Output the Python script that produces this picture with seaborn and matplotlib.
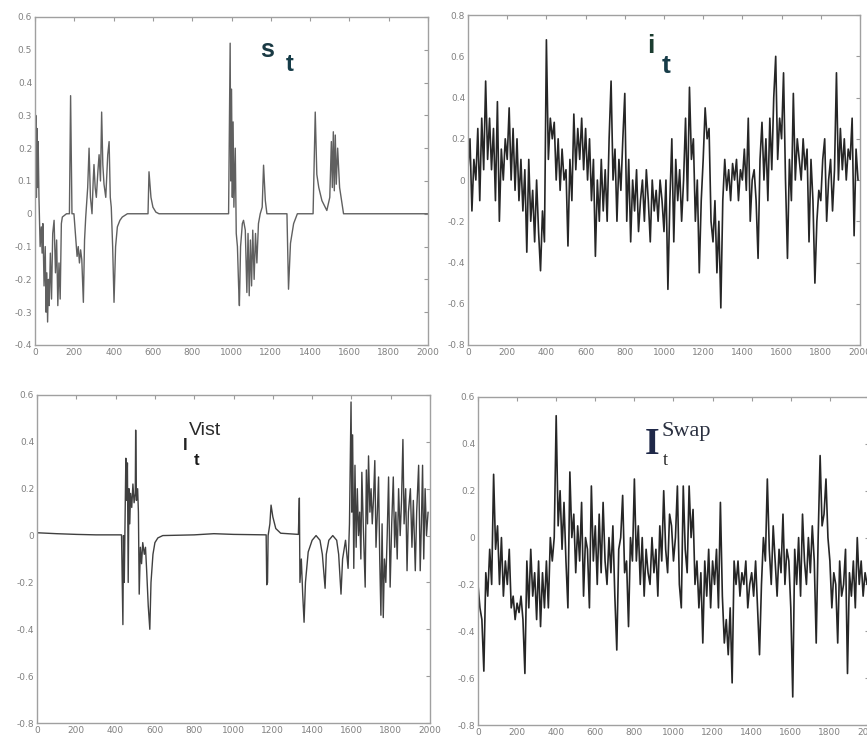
import numpy as np
import pandas as pd
import matplotlib
matplotlib.use("Agg")
import matplotlib.pyplot as plt
import seaborn as sns
from matplotlib.ticker import FuncFormatter, MultipleLocator

# s_t : sparse spikes, key points
s_x = [0, 4, 7, 10, 13, 16, 20, 26, 32, 36, 40, 46, 52, 56, 60, 64, 68, 72, 78, 84,
       90, 97, 104, 110, 116, 122, 128, 134, 139, 160, 175, 181, 188, 198, 208, 214, 220, 226, 232, 238,
       246, 252, 258, 268, 275, 282, 290, 296, 300, 306, 312, 320, 326, 333, 339, 345, 351, 360, 370, 377,
       383, 388, 395, 402, 410, 419, 432, 444, 470, 575, 580, 590, 600, 615, 631, 985, 993, 996, 1000, 1004,
       1008, 1012, 1019, 1024, 1030, 1036, 1040, 1046, 1055, 1061, 1070, 1078, 1084, 1090, 1096, 1102, 1108, 1115, 1122, 1129,
       1137, 1146, 1156, 1163, 1172, 1180, 1282, 1290, 1300, 1316, 1335, 1415, 1426, 1434, 1444, 1460, 1485, 1500, 1508, 1513,
       1518, 1523, 1528, 1533, 1540, 1550, 1570, 2000]
s_y = [0.10, 0.30, 0.05, 0.26, 0.08, 0.22, 0.05, -0.10, -0.04, -0.12, -0.03, -0.22, -0.10, -0.30, -0.18, -0.33, -0.20, -0.28, -0.12, -0.26,
       -0.06, -0.02, -0.18, -0.08, -0.28, -0.15, -0.26, -0.03, -0.01, 0.0, 0.0, 0.36, 0.0, 0.0, -0.08, -0.13, -0.10, -0.15, -0.11, -0.14,
       -0.27, -0.08, -0.01, 0.08, 0.20, 0.05, 0.0, 0.10, 0.15, 0.08, 0.05, 0.13, 0.18, 0.10, 0.31, 0.15, 0.09, 0.05, 0.18, 0.22,
       0.05, 0.02, -0.10, -0.27, -0.10, -0.04, -0.02, -0.01, 0.0, 0.0, 0.128, 0.05, 0.02, 0.005, 0.0, 0.0, 0.52, 0.10, 0.38, 0.05,
       0.28, 0.02, 0.20, -0.06, -0.10, -0.22, -0.28, -0.10, -0.03, -0.02, -0.05, -0.24, -0.06, -0.25, -0.08, -0.22, -0.05, -0.20, -0.06, -0.15,
       -0.03, 0.0, 0.02, 0.148, 0.04, 0.0, 0.0, -0.23, -0.09, -0.03, 0.0, 0.0, 0.31, 0.12, 0.08, 0.04, 0.01, 0.05, 0.22, 0.08,
       0.25, 0.07, 0.24, 0.09, 0.20, 0.08, 0.0, 0.0]

# i_t : noisy series, one value every 10 samples
i_x = list(range(0, 2000, 10))
i_y = [0.05, 0.2, -0.15, 0.1, 0.0, 0.25, -0.1, 0.3, 0.05, 0.48,
       0.1, 0.3, 0.05, 0.25, -0.1, 0.38, -0.2, 0.15, 0.0, 0.2,
       0.1, 0.35, 0.0, 0.25, -0.05, 0.2, -0.1, 0.1, -0.15, 0.05,
       -0.35, 0.1, -0.2, -0.05, -0.3, 0.0, -0.25, -0.44, -0.15, -0.3,
       0.68, 0.1, 0.3, 0.2, 0.28, 0.0, 0.2, -0.05, 0.15, 0.0,
       0.05, -0.32, 0.1, -0.1, 0.32, 0.05, 0.25, 0.1, 0.3, 0.05,
       0.25, 0.0, 0.2, -0.1, 0.1, -0.37, 0.0, -0.2, 0.1, -0.15,
       0.05, -0.2, 0.2, 0.48, 0.0, 0.15, -0.2, 0.1, -0.05, 0.2,
       0.42, -0.2, 0.1, -0.3, 0.0, -0.15, 0.05, -0.25, -0.1, 0.0,
       -0.2, 0.05, -0.1, -0.3, 0.0, -0.15, -0.05, -0.2, 0.0, -0.1,
       -0.25, 0.0, -0.53, -0.1, 0.2, -0.3, 0.1, -0.1, 0.05, -0.2,
       0.0, 0.3, -0.1, 0.45, 0.1, 0.2, -0.2, 0.0, -0.45, -0.1,
       0.1, 0.35, 0.2, 0.25, -0.2, -0.3, -0.1, -0.45, -0.2, -0.62,
       -0.1, 0.1, -0.05, 0.05, -0.1, 0.08, 0.0, 0.1, -0.1, 0.05,
       0.0, 0.15, -0.05, 0.3, -0.2, 0.0, 0.05, -0.1, -0.38, 0.1,
       0.28, 0.0, 0.2, -0.1, 0.3, 0.05, 0.4, 0.6, 0.1, 0.3,
       0.2, 0.52, 0.0, -0.38, 0.1, -0.1, 0.42, 0.0, 0.2, 0.1,
       0.0, 0.2, 0.05, 0.15, -0.3, 0.1, -0.1, -0.5, -0.2, -0.05,
       -0.1, 0.1, 0.2, -0.2, 0.0, 0.1, -0.15, 0.05, 0.52, 0.0,
       0.25, 0.05, 0.2, 0.0, 0.15, 0.1, 0.3, -0.27, 0.15, 0.0]

# I_t^Vist : quiet, a few bursts, noisy tail
v_x = [0, 100, 200, 300, 430, 437, 440, 444, 448, 452, 456, 460, 464, 468, 472, 476, 482, 488, 494, 500,
       502, 506, 512, 516, 520, 526, 532, 538, 546, 552, 558, 566, 574, 580, 590, 600, 615, 640, 800, 900,
       1000, 1166, 1169, 1173, 1176, 1185, 1191, 1200, 1215, 1240, 1330, 1335, 1338, 1345, 1352, 1359, 1366, 1380, 1400, 1420,
       1440, 1452, 1466, 1472, 1485, 1505, 1525, 1535, 1547, 1555, 1570, 1583, 1590, 1598, 1602, 1606, 1612, 1618, 1624, 1630,
       1636, 1642, 1648, 1653, 1660, 1670, 1676, 1682, 1687, 1694, 1700, 1706, 1712, 1719, 1725, 1732, 1738, 1744, 1750, 1756,
       1762, 1768, 1775, 1782, 1789, 1797, 1805, 1813, 1820, 1826, 1833, 1840, 1848, 1855, 1862, 1868, 1876, 1883, 1890, 1900,
       1908, 1915, 1925, 1932, 1942, 1950, 1956, 1962, 1968, 1975, 1982, 1990]
v_y = [0.012, 0.008, 0.005, 0.003, 0.003, -0.38, 0.0, -0.2, 0.05, 0.33, 0.15, 0.31, -0.2, 0.2, 0.05, 0.18, 0.12, 0.22, 0.14, 0.18,
       0.45, 0.15, 0.2, 0.1, -0.25, -0.05, -0.12, -0.03, -0.08, -0.05, -0.15, -0.3, -0.4, -0.2, -0.08, -0.03, -0.01, 0.0, 0.003, 0.008,
       0.005, 0.003, -0.21, -0.2, 0.0, 0.05, 0.13, 0.08, 0.03, 0.01, 0.005, 0.16, -0.2, -0.1, -0.25, -0.37, -0.2, -0.07, -0.02, 0.0,
       -0.02, -0.08, -0.225, -0.08, -0.02, 0.0, -0.02, -0.08, -0.25, -0.1, -0.02, -0.14, 0.05, 0.57, 0.1, 0.43, -0.14, 0.3, -0.05, 0.2,
       0.0, 0.1, -0.1, 0.27, 0.05, -0.22, 0.28, 0.05, 0.34, 0.1, 0.2, 0.05, 0.15, 0.32, -0.05, 0.1, 0.25, -0.1, -0.34, 0.05,
       -0.35, -0.1, -0.2, 0.0, 0.25, -0.22, 0.05, 0.25, -0.05, 0.1, -0.1, 0.2, 0.0, 0.15, 0.41, 0.05, 0.2, -0.15, 0.1, 0.2,
       -0.05, 0.15, -0.15, 0.1, 0.3, -0.15, 0.05, 0.3, -0.1, 0.2, 0.0, 0.1]

# I_t^Swap : noisy series, one value every 10 samples
w_x = list(range(0, 2000, 10))
w_y = [-0.2, -0.3, -0.35, -0.57, -0.15, -0.25, -0.05, -0.2, 0.27, -0.05,
       0.05, -0.2, 0.0, -0.25, -0.1, -0.2, -0.05, -0.3, -0.25, -0.35,
       -0.28, -0.32, -0.25, -0.35, -0.58, -0.1, -0.3, -0.05, -0.25, -0.15,
       -0.35, -0.1, -0.38, -0.15, -0.3, -0.1, -0.3, 0.0, -0.1, 0.0,
       0.52, 0.05, 0.2, -0.05, 0.15, -0.1, -0.3, 0.28, 0.0, 0.1,
       -0.15, 0.05, -0.1, 0.15, -0.25, 0.0, -0.05, -0.3, 0.22, -0.1,
       0.05, -0.2, 0.1, -0.15, 0.15, -0.1, -0.2, 0.0, -0.15, 0.05,
       -0.25, -0.48, -0.05, 0.0, 0.18, -0.15, -0.1, -0.38, 0.0, -0.1,
       0.25, -0.1, 0.05, -0.2, 0.0, -0.25, -0.05, -0.15, -0.2, 0.0,
       -0.15, -0.05, -0.25, 0.05, -0.1, 0.2, -0.05, -0.15, 0.1, 0.05,
       -0.1, 0.0, 0.22, -0.2, -0.3, 0.22, -0.05, -0.15, 0.22, 0.0,
       0.12, -0.2, -0.1, -0.3, -0.15, -0.45, -0.1, -0.25, -0.05, -0.3,
       -0.1, -0.2, -0.05, -0.3, 0.15, -0.25, -0.45, -0.35, -0.5, -0.3,
       -0.62, -0.1, -0.2, -0.1, -0.25, -0.15, -0.2, -0.1, -0.3, -0.2,
       -0.15, -0.25, -0.1, -0.3, -0.5, -0.2, 0.0, -0.1, 0.25, -0.05,
       -0.2, 0.05, -0.1, -0.25, -0.05, -0.15, 0.1, -0.2, -0.05, -0.1,
       -0.3, -0.68, -0.05, -0.2, 0.0, -0.25, 0.1, -0.1, -0.2, 0.0,
       -0.15, 0.05, -0.1, -0.45, 0.0, 0.35, 0.05, 0.1, 0.25, 0.0,
       -0.1, -0.3, -0.15, -0.2, -0.45, -0.1, -0.25, -0.2, -0.05, -0.58,
       -0.15, -0.25, -0.1, -0.3, 0.0, -0.2, -0.1, -0.25, -0.15, -0.2]

x_ticks = list(range(0, 2001, 200))

sns.set_style("white")
plt.rcParams['font.family'] = ['DejaVu Sans']

fig = plt.figure(figsize=(8.67, 7.43), dpi=100)
ax_s = fig.add_axes([0.0404, 0.5357, 0.4533, 0.4415])
ax_i = fig.add_axes([0.5398, 0.5357, 0.4521, 0.4440])
ax_v = fig.add_axes([0.0427, 0.0269, 0.4533, 0.4415])
ax_w = fig.add_axes([0.5513, 0.0242, 0.4510, 0.4415])


def fmt(v, pos):
    if abs(v) < 1e-9:
        return "0"
    return f"{round(v, 2):g}"


def style(ax, ymin, ymax, ystep):
    ax.set_xlim(0, 2000)
    ax.set_ylim(ymin, ymax)
    ax.set_xticks(x_ticks)
    ax.yaxis.set_major_locator(MultipleLocator(ystep))
    ax.yaxis.set_major_formatter(FuncFormatter(fmt))
    ax.xaxis.set_major_formatter(FuncFormatter(fmt))
    ax.tick_params(direction="in", length=3, width=0.8, colors="#9a9a9a",
                   labelsize=6.5, labelcolor="#808080", top=True, right=True, pad=2)
    for sp in ax.spines.values():
        sp.set_color("#a0a0a0")
        sp.set_linewidth(1.0)
    ax.set_xlabel("")
    ax.set_ylabel("")


sns.lineplot(x=s_x, y=s_y, ax=ax_s, color="#606060", linewidth=1.0, estimator=None, sort=False)
style(ax_s, -0.4, 0.6, 0.1)
ax_s.text(0.59, 0.90, "s", transform=ax_s.transAxes, fontsize=18, color="#1a3a44",
          ha="center", va="center", fontweight="bold", family="Liberation Sans")
ax_s.text(0.648, 0.855, "t", transform=ax_s.transAxes, fontsize=17, color="#163c48",
          ha="center", va="center", fontweight="bold", family="Liberation Sans")

sns.lineplot(x=i_x, y=i_y, ax=ax_i, color="#262626", linewidth=1.2, estimator=None, sort=False)
style(ax_i, -0.8, 0.8, 0.2)
ax_i.text(0.466, 0.905, "i", transform=ax_i.transAxes, fontsize=19, color="#1c3d30",
          ha="center", va="center", fontweight="bold", family="Liberation Sans")
ax_i.text(0.505, 0.845, "t", transform=ax_i.transAxes, fontsize=19, color="#173c48",
          ha="center", va="center", fontweight="bold", family="Liberation Sans")

sns.lineplot(x=v_x, y=v_y, ax=ax_v, color="#404040", linewidth=1.0, estimator=None, sort=False)
style(ax_v, -0.8, 0.6, 0.2)
ax_v.text(0.377, 0.845, "I", transform=ax_v.transAxes, fontsize=12, color="#222222",
          ha="center", va="center", fontweight="bold", family="Liberation Sans")
ax_v.text(0.387, 0.893, "Vist", transform=ax_v.transAxes, fontsize=14, color="#2a2a2a",
          ha="left", va="center", family="Liberation Sans")
ax_v.text(0.406, 0.80, "t", transform=ax_v.transAxes, fontsize=12, color="#1a1a1a",
          ha="center", va="center", fontweight="bold", family="Liberation Sans")

sns.lineplot(x=w_x, y=w_y, ax=ax_w, color="#262626", linewidth=1.2, estimator=None, sort=False)
style(ax_w, -0.8, 0.6, 0.2)
ax_w.text(0.446, 0.855, "I", transform=ax_w.transAxes, fontsize=27, color="#1f2848",
          ha="center", va="center", fontweight="bold", family="Liberation Serif")
ax_w.text(0.47, 0.895, "Swap", transform=ax_w.transAxes, fontsize=16, color="#2a3040",
          ha="left", va="center", family="Liberation Serif")
ax_w.text(0.479, 0.805, "t", transform=ax_w.transAxes, fontsize=13, color="#2a2a2a",
          ha="center", va="center", family="Liberation Serif")

fig.savefig("out.png", dpi=100)
